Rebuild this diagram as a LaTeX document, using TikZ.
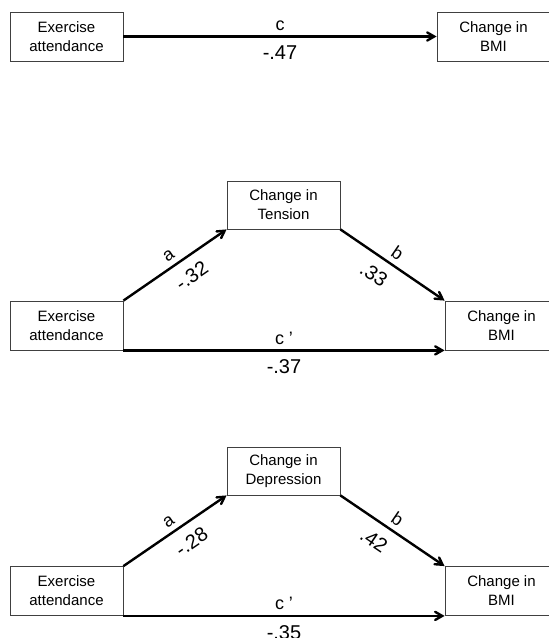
\documentclass[tikz,border=0pt]{standalone}
\usepackage{fontspec}
\setmainfont{Liberation Sans}
\usetikzlibrary{arrows}
\tikzset{
  varbox/.style={draw=black!75,line width=0.8pt,minimum width=113pt,minimum height=49pt,inner sep=0pt,align=center,font=\fontsize{15}{19}\selectfont},
  effect/.style={line width=2.4pt,->,>=angle 60},
  lab/.style={inner sep=0pt,font=\fontsize{18}{18}\selectfont},
  coef/.style={inner sep=0pt,font=\fontsize{20}{20}\selectfont}
}
\begin{document}
\begin{tikzpicture}[x=1pt,y=-1pt]
\useasboundingbox (0,0) rectangle (549,638);
\node[varbox] (ex1) at (66.5,36.5) {Exercise\\attendance};
\node[varbox] (bmi1) at (493.5,36.5) {Change in\\BMI};
\draw[effect] (ex1) -- (bmi1) node[lab,midway,above=5pt] (c1) {c} node[coef,midway,below=8pt] (v1) {-.47};
\node[varbox] (ex2) at (66.5,325.5) {Exercise\\attendance};
\node[varbox,minimum height=48pt] (ten) at (283.5,205) {Change in\\Tension};
\node[varbox] (bmi2) at (501.5,325.5) {Change in\\BMI};
\draw[effect] (ex2.north east) -- (ten.south west) node[lab,sloped,pos=0.5,above=5pt] (a2) {a} node[coef,sloped,pos=0.56,below=10pt] (va2) {-.32};
\draw[effect] (ten.south east) -- (bmi2.north west) node[lab,sloped,pos=0.48,above=5pt] (b2) {b} node[coef,sloped,pos=0.42,below=10pt] (vb2) {.33};
\draw[effect] (ex2.south east) -- (bmi2.south west) node[lab,midway,above=5pt] (c2) {c '} node[coef,midway,below=8pt] (vc2) {-.37};
\node[varbox] (ex3) at (66.5,591) {Exercise\\attendance};
\node[varbox,minimum height=48pt] (dep) at (283.5,471) {Change in\\Depression};
\node[varbox] (bmi3) at (501.5,591) {Change in\\BMI};
\draw[effect] (ex3.north east) -- (dep.south west) node[lab,sloped,pos=0.5,above=5pt] (a3) {a} node[coef,sloped,pos=0.56,below=10pt] (va3) {-.28};
\draw[effect] (dep.south east) -- (bmi3.north west) node[lab,sloped,pos=0.48,above=5pt] (b3) {b} node[coef,sloped,pos=0.42,below=10pt] (vb3) {.42};
\draw[effect] (ex3.south east) -- (bmi3.south west) node[lab,midway,above=5pt] (c3) {c '} node[coef,midway,below=8pt] (vc3) {-.35};
\end{tikzpicture}
\end{document}
